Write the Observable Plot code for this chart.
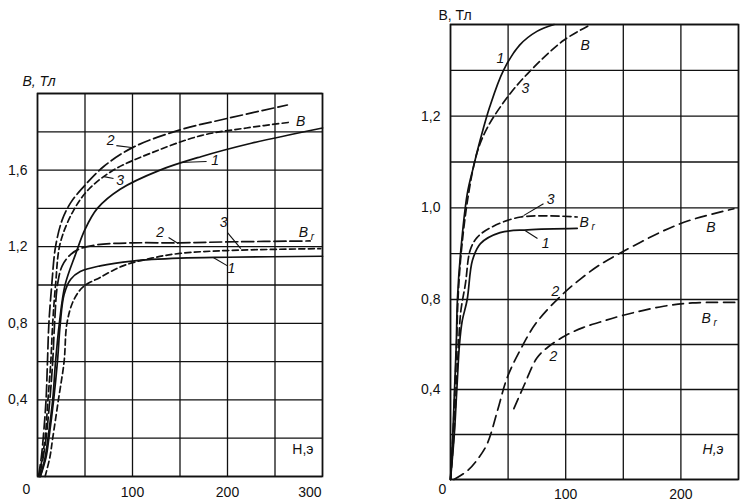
<!DOCTYPE html>
<html><head><meta charset="utf-8">
<script src="https://cdn.jsdelivr.net/npm/d3@7"></script>
<script src="https://cdn.jsdelivr.net/npm/@observablehq/plot@0.6"></script>
<style>
body{margin:0;background:#fff;}
#wrap{position:relative;width:748px;height:504px;overflow:hidden;background:#fff;}
#wrap svg{position:absolute;top:0;}
</style></head><body><div id="wrap"></div>
<script>
// ---------- LEFT PANEL DATA: [H (э), B (Тл)] ----------
const leftB1  = [[3,0],[8,0.1],[11,0.2],[16,0.4],[19,0.6],[23,0.8],[29,1.0],[40,1.16],[50,1.29],[63,1.40],[87,1.50],[129,1.60],[172,1.67],[225,1.74],[300,1.82]];
const leftB2  = [[1,0],[4,0.1],[6,0.2],[9,0.4],[10.5,0.6],[12,0.8],[15,1.0],[19,1.2],[26,1.34],[35,1.43],[48,1.51],[70,1.62],[101,1.72],[150,1.81],[200,1.87],[263,1.94]];
const leftB3  = [[2,0],[5,0.1],[8,0.2],[11,0.4],[14,0.6],[16,0.8],[19,1.0],[24,1.22],[38,1.39],[54,1.50],[80,1.60],[120,1.69],[172,1.78],[220,1.82],[266,1.85]];
const leftBr1 = [[3,0],[9,0.1],[12,0.2],[17,0.4],[21,0.6],[24,0.8],[28,0.95],[35,1.03],[45,1.07],[66,1.10],[100,1.125],[150,1.14],[200,1.145],[300,1.15]];
const leftBr2 = [[2,0],[6,0.1],[9,0.2],[13,0.4],[16,0.6],[18,0.8],[21,1.0],[26,1.1],[35,1.16],[45,1.19],[63,1.21],[100,1.22],[150,1.22],[200,1.225],[287,1.23]];
const leftBr3 = [[8,0],[13,0.1],[16,0.2],[22,0.4],[28,0.6],[31,0.8],[38,0.92],[48,0.99],[66,1.04],[90,1.10],[120,1.14],[150,1.165],[200,1.18],[298,1.19]];
const leftXTicks = [100,200];
const leftXTickEnd = [300];
const leftYTicks = [0.4,0.8,1.2,1.6];
const leftXGrid = [0,50,100,150,200,250,300];
const leftYGrid = [0,0.2,0.4,0.6,0.8,1.0,1.2,1.4,1.6,1.8,2.0];
const leftLabels = [
  {t:"2",H:77,B:1.755},{t:"3",H:87,B:1.545},{t:"1",H:187,B:1.65},{t:"B",H:277,B:1.855},
  {t:"2",H:129,B:1.274},{t:"3",H:196,B:1.326},{t:"1",H:204,B:1.086},{t:"B",H:280,B:1.274}
];
const leftSubs = [{t:"r",H:280,B:1.274}];
const leftLeaders = [
  {H1:83,B1:1.728,H2:99,B2:1.718},{H1:80,B1:1.556,H2:70,B2:1.566},{H1:150,B1:1.64,H2:178,B2:1.645},
  {H1:138,B1:1.248,H2:148,B2:1.217},{H1:200,B1:1.274,H2:214,B2:1.19},{H1:185,B1:1.144,H2:200,B2:1.10}
];

// ---------- RIGHT PANEL DATA ----------
const rightB1  = [[0,0],[2,0.2],[3.5,0.4],[5,0.6],[6,0.8],[8.7,0.9],[14.5,1.03],[20,1.09],[26,1.15],[34,1.22],[46,1.30],[60,1.355],[75,1.385],[90,1.40]];
const rightB3  = [[0,0],[2.2,0.2],[3.8,0.4],[5.3,0.6],[6.5,0.8],[9.2,0.9],[15,1.02],[23,1.12],[32,1.175],[49,1.24],[67,1.293],[98,1.365],[122,1.40]];
const rightBr1 = [[0,0],[3.3,0.2],[5.5,0.4],[7.8,0.6],[10,0.7],[14.5,0.80],[19,0.885],[26,0.922],[43,0.946],[67,0.952],[110,0.955]];
const rightBr3 = [[0,0],[3,0.2],[5,0.4],[7,0.6],[9,0.75],[13,0.835],[17,0.907],[23,0.935],[35,0.957],[61,0.98],[110,0.98]];
const rightB2  = [[3,0],[15,0.04],[25,0.1],[32,0.16],[41,0.31],[49,0.45],[61,0.58],[75,0.70],[98,0.813],[113,0.845],[128,0.873],[145,0.898],[165,0.925],[185,0.95],[208,0.973],[246,0.998]];
const rightBr2 = [[55,0.315],[64,0.42],[75,0.54],[85,0.59],[100,0.64],[115,0.675],[130,0.70],[150,0.73],[185,0.77],[210,0.785],[250,0.787]];
const rightXTicks = [100,200];
const rightYTicks = [0.4,0.8,1.0,1.2];
const rightXGrid = [0,50,100,150,200,250];
const rightYGrid = [0,0.2,0.4,0.6,0.8,0.9,1.0,1.1,1.2,1.3,1.4];
const rightYBreaks = [0,0.8,1.4];
const rightLabels = [
  {t:"1",H:43.4,B:1.326},{t:"3",H:65,B:1.26},{t:"B",H:117,B:1.354},
  {t:"3",H:87,B:1.018},{t:"1",H:82.5,B:0.922},{t:"B",H:116,B:0.968},
  {t:"2",H:91,B:0.817},{t:"2",H:89.4,B:0.547},{t:"B",H:226,B:0.957},{t:"B",H:222,B:0.716}
];
const rightSubs = [{t:"r",H:116,B:0.968},{t:"r",H:222,B:0.716}];
const rightLeaders = [
  {H1:63.4,B1:0.983,H2:80.7,B2:1.009},{H1:65,B1:0.95,H2:75.5,B2:0.933}
];

const FONT = "'Liberation Sans', Arial, Helvetica, sans-serif";
const comma = d => (+d).toFixed(1).replace(".", ",");
const intFmt = d => String(d);
const lineOpts = (dash) => ({x: d => d[0], y: d => d[1], stroke: "#111", strokeWidth: 1.7, curve: "catmull-rom", strokeDasharray: dash});
const gridStyle = {stroke: "#111", strokeWidth: 1.3, strokeOpacity: 1};

// ---------- LEFT PLOT ----------
const left = Plot.plot({
  width: 345, height: 504,
  marginLeft: 37, marginRight: 23, marginTop: 93, marginBottom: 28,
  style: {fontFamily: FONT, fontSize: "14px", color: "#111", background: "transparent"},
  x: {domain: [0,300]},
  y: {domain: [0,2.0]},
  marks: [
    Plot.ruleX(leftXGrid, gridStyle),
    Plot.ruleY(leftYGrid, gridStyle),
    Plot.frame({stroke: "#111", strokeWidth: 1.6}),
    Plot.line(leftB1, lineOpts(null)),
    Plot.line(leftB2, lineOpts("12,4")),
    Plot.line(leftB3, lineOpts("6,3.5")),
    Plot.line(leftBr1, lineOpts(null)),
    Plot.line(leftBr2, lineOpts("12,4")),
    Plot.line(leftBr3, lineOpts("6,3.5")),
    Plot.link(leftLeaders, {x1:"H1", y1:"B1", x2:"H2", y2:"B2", stroke:"#111", strokeWidth:1.1}),
    Plot.text(leftLabels, {x:"H", y:"B", text:"t", fontStyle:"italic", fontSize:14, fill:"#111"}),
    Plot.text(leftSubs, {x:"H", y:"B", text:"t", fontStyle:"italic", fontSize:10, dx:9, dy:4, fill:"#111"}),
    Plot.axisX(leftXTicks, {tickSize:0, tickPadding:11, tickFormat: intFmt, fontSize:14, label:null}),
    Plot.axisX(leftXTickEnd, {tickSize:0, tickPadding:11, tickFormat: intFmt, fontSize:14, textAnchor:"end", dx:-1, label:null}),
    Plot.axisY(leftYTicks, {tickSize:0, tickPadding:10, tickFormat: comma, fontSize:14, label:null}),
    Plot.text(["0"], {frameAnchor:"bottom-left", text: d => d, dx:-15, dy:17, fontSize:14, fill:"#111"}),
    Plot.text(["B, Тл"], {frameAnchor:"top-left", text: d => d, textAnchor:"start", dx:-15, dy:-17, fontSize:14, fontStyle:"italic", fill:"#111"}),
    Plot.text(["H,э"], {frameAnchor:"bottom-right", text: d => d, textAnchor:"end", dx:-9, dy:-23, fontSize:14, fill:"#111"})
  ]
});
left.style.left = "0px";

// ---------- RIGHT PLOT ----------
const right = Plot.plot({
  width: 363, height: 504,
  marginLeft: 65, marginRight: 10, marginTop: 24, marginBottom: 25,
  style: {fontFamily: FONT, fontSize: "14px", color: "#111", background: "transparent"},
  x: {domain: [0,250]},
  y: {type: "linear", domain: rightYBreaks, range: [479, 299, 24]},
  marks: [
    Plot.ruleX(rightXGrid, gridStyle),
    Plot.ruleY(rightYGrid, gridStyle),
    Plot.frame({stroke: "#111", strokeWidth: 1.6}),
    Plot.line(rightB1, lineOpts(null)),
    Plot.line(rightB3, lineOpts("8,4")),
    Plot.line(rightBr1, lineOpts(null)),
    Plot.line(rightBr3, lineOpts("8,4")),
    Plot.line(rightB2, lineOpts("11,6")),
    Plot.line(rightBr2, lineOpts("11,6")),
    Plot.link(rightLeaders, {x1:"H1", y1:"B1", x2:"H2", y2:"B2", stroke:"#111", strokeWidth:1.1}),
    Plot.text(rightLabels, {x:"H", y:"B", text:"t", fontStyle:"italic", fontSize:14, fill:"#111"}),
    Plot.text(rightSubs, {x:"H", y:"B", text:"t", fontStyle:"italic", fontSize:10, dx:9, dy:4, fill:"#111"}),
    Plot.axisX(rightXTicks, {tickSize:0, tickPadding:10, tickFormat: intFmt, fontSize:14, label:null}),
    Plot.axisY(rightYTicks, {tickSize:0, tickPadding:10, tickFormat: comma, fontSize:14, label:null}),
    Plot.text(["0"], {frameAnchor:"bottom-left", text: d => d, dx:-12, dy:14, fontSize:14, fill:"#111"}),
    Plot.text(["В, Тл"], {frameAnchor:"top-left", text: d => d, textAnchor:"start", dx:-12, dy:-14, fontSize:14, fill:"#111"}),
    Plot.text(["H,э"], {frameAnchor:"bottom-right", text: d => d, textAnchor:"end", dx:-15, dy:-26, fontSize:14, fontStyle:"italic", fill:"#111"})
  ]
});
right.style.left = "385px";

document.getElementById("wrap").append(left, right);
</script></body></html>
